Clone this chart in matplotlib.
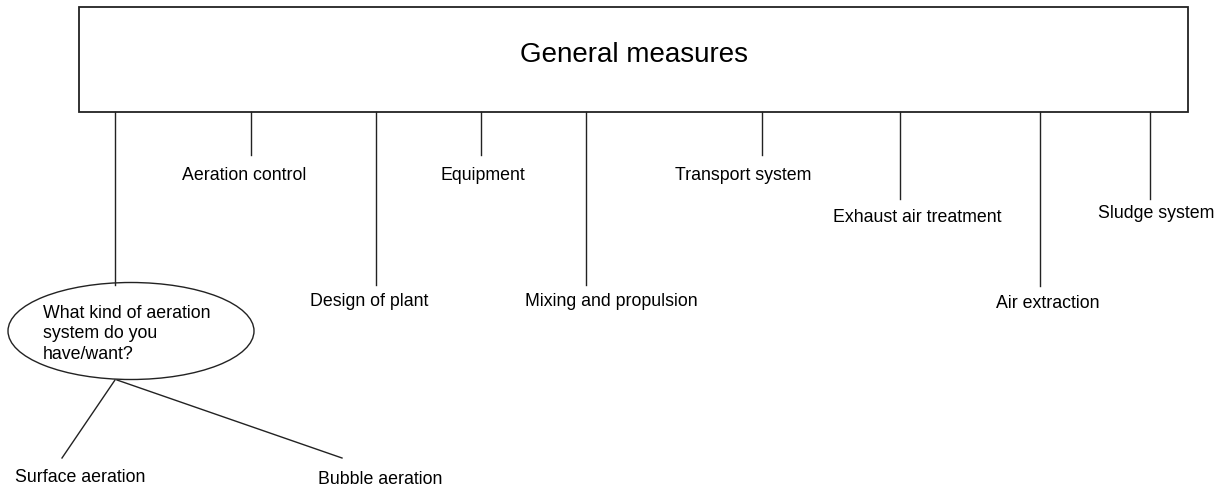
import matplotlib
matplotlib.use("Agg")
import matplotlib.pyplot as plt
from matplotlib.patches import Rectangle, Ellipse

plt.rcParams['font.family'] = ['Liberation Sans', 'DejaVu Sans']

title = "General measures"
# branch labels, branch x position, line end y, label x, label y
labels = ["What kind of aeration\nsystem do you\nhave/want?", "Aeration control", "Design of plant",
          "Equipment", "Mixing and propulsion", "Transport system",
          "Exhaust air treatment", "Air extraction", "Sludge system"]
branch_x = [115, 251, 376, 481, 586, 762, 900, 1040, 1150]
branch_end = [285, 155, 285, 155, 285, 155, 199, 286, 199]
label_x = [131, 244, 369, 483, 611, 743, 917, 1048, 1156]
label_y = [331, 175, 301, 175, 301, 175, 218, 303, 213]

sub_labels = ["Surface aeration", "Bubble aeration"]
sub_start = [(115, 380), (117, 380)]
sub_end = [(62, 458), (342, 458)]
sub_label_pos = [(80, 477), (380, 479)]

fig = plt.figure(figsize=(12.28, 4.88), dpi=100)
ax = fig.add_axes([0, 0, 1, 1])
ax.set_xlim(0, 1228)
ax.set_ylim(488, 0)
ax.axis('off')

ec = '#222222'
ax.add_patch(Rectangle((79, 7), 1188 - 79, 112 - 7, fill=False, ec=ec, lw=1.3))
ax.text(634, 55, title, ha='center', va='center', fontsize=20)

fs = 12.8
for i, (lab, bx, be, lx, ly) in enumerate(zip(labels, branch_x, branch_end, label_x, label_y)):
    ax.plot([bx, bx], [112, be], color=ec, lw=1.0)
    if i == 0:
        ax.add_patch(Ellipse((131, 331), 246, 97, fill=False, ec=ec, lw=1.0))
        ax.text(43, 334, lab, ha='left', va='center', fontsize=fs, linespacing=1.3)
    else:
        ax.text(lx, ly, lab, ha='center', va='center', fontsize=fs)

for lab, s, e, p in zip(sub_labels, sub_start, sub_end, sub_label_pos):
    ax.plot([s[0], e[0]], [s[1], e[1]], color=ec, lw=1.0)
    ax.text(p[0], p[1], lab, ha='center', va='center', fontsize=fs)

fig.savefig("out.png", dpi=100)
